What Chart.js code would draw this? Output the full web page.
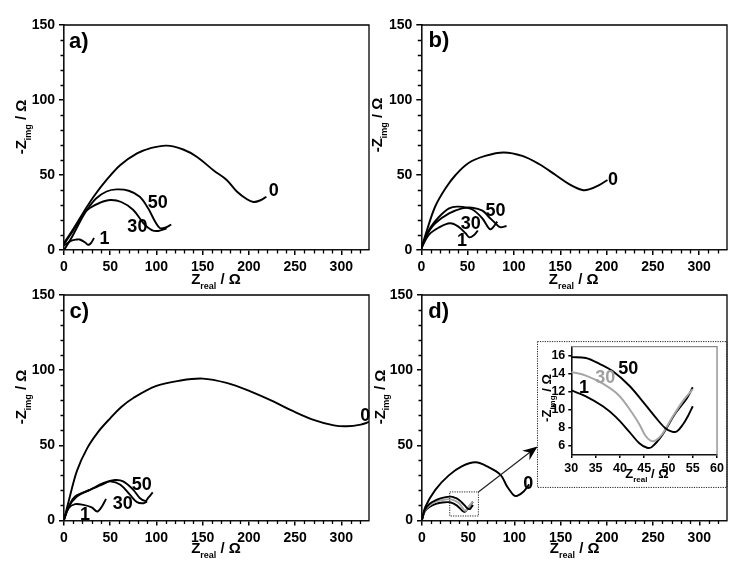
<!DOCTYPE html>
<html>
<head>
<meta charset="utf-8">
<script src="https://cdn.jsdelivr.net/npm/chart.js@4"></script>
<style>
    html, body { margin: 0; padding: 0; background: #fff; }
    body { position: relative; width: 743px; height: 571px; overflow: hidden; }
    canvas { position: absolute; filter: blur(0.25px); }
</style>
</head>
<body>
<canvas id="panelA"></canvas>
<canvas id="panelB"></canvas>
<canvas id="panelC"></canvas>
<canvas id="panelD"></canvas>
<canvas id="inset"></canvas>
<script>
// axis ticks
const mainXTicks = [0, 50, 100, 150, 200, 250, 300];
const mainYTicks = [0, 50, 100, 150];
const mainXMinor = [10, 20, 30, 40, 60, 70, 80, 90, 110, 120, 130, 140, 160, 170, 180, 190, 210, 220, 230, 240, 260, 270, 280, 290, 310, 320];
const mainYMinor = [10, 20, 30, 40, 60, 70, 80, 90, 110, 120, 130, 140];
const insetXTicks = [30, 35, 40, 45, 50, 55, 60];
const insetYTicks = [6, 8, 10, 12, 14, 16];

// panel a) [Zreal, -Zimg]
const a0 = [[0, 4.5], [10, 14], [21, 25], [32, 35.5], [46, 46.7], [61, 56.7], [79, 64.4], [93, 67.8], [111, 69.6], [129, 67], [144, 62], [162, 53], [176, 46.7], [187, 39], [198, 33.8], [205, 32], [212, 33], [219, 35.5]];
const a50 = [[0, 0], [8, 8], [14, 15], [21, 23], [28, 29.5], [35, 34.5], [46, 39], [57, 40.4], [70, 39.5], [82, 35.5], [91, 27.8], [99, 18.5], [104, 14.5], [110, 15], [116, 17]];
const a30 = [[0, 4], [10, 13], [21, 24], [28, 28], [39, 31.5], [50, 33.3], [62, 32], [75, 26.7], [86, 17.8], [95, 13.3], [102, 12.7], [111, 14.4]];
const a1 = [[0, 3], [8, 6.2], [14, 7], [17, 7], [23, 5], [26, 3.5], [29, 4.5], [32.5, 8]];

// panel b)
const b0 = [[0, 1], [6, 13], [15, 29], [26, 41], [37, 50], [51, 58], [69, 62.7], [89, 65], [109, 62.7], [127, 57.3], [145, 50], [160, 43.8], [174, 40], [181, 40.4], [192, 43.3], [201, 46.7]];
const b50 = [[0, 1], [6, 10], [15, 17.8], [30, 24.4], [44, 27.8], [55, 28.2], [66, 26.2], [73, 22], [80, 17.8], [85, 15.2], [92, 16]];
const b30 = [[0, 1], [8, 13], [19, 22], [30, 27.8], [40, 28.9], [55, 27], [66, 21], [73, 14.4], [76, 14.2], [82, 18.9]];
const b1 = [[0, 1], [8, 10], [19, 15], [31, 17.8], [40, 15.6], [48, 11], [52, 8.4], [57, 10], [61, 13]];

// panel c)
const c0 = [[0, 0.5], [5, 12.7], [14, 33], [25, 48], [37, 59], [50, 68], [62, 75.5], [75, 81.5], [100, 89.5], [125, 93], [150, 94.4], [176, 91.5], [201, 86], [227, 79], [248, 72.7], [270, 67], [292, 63.3], [306, 62.7], [321, 63.8], [330, 65.5]];
const c50 = [[0, 0.5], [5, 9], [14, 16], [28, 20.4], [43, 25], [55, 26.9], [64, 26], [75, 20.4], [82, 15], [88, 13], [91, 15], [96, 18.7]];
const c30 = [[0, 0.5], [5, 9], [12, 16], [28, 20.4], [43, 24.4], [50, 26], [61, 23.8], [71.5, 17], [79, 12.2], [86, 11.5], [90, 12.7]];
const c1 = [[0, 0.5], [5, 8.2], [12, 10.9], [21, 10.4], [30, 8.7], [36, 6], [41, 9.3], [45.5, 14.4]];

// panel d)
const d0 = [[0, 0.5], [3.6, 9], [14.4, 20.4], [29, 30], [43, 36], [58, 38.7], [72, 35.5], [85, 30.4], [92, 22.7], [99, 17], [103, 16.4], [110, 19.3], [116, 24]];
const d50 = [[0, 0.5], [3, 7], [8, 11], [15, 13.5], [22, 15], [30, 15.85], [33, 15.75], [35.8, 15.1], [38.5, 14.3], [41.9, 12.7], [44.6, 11], [47.3, 9.2], [49.3, 8], [50.7, 7.6], [51.7, 7.6], [53, 8.4], [54, 9.3], [55, 10.4]];
const d30 = [[0, 0.5], [3, 6.5], [8, 10], [15, 12.5], [22, 13.6], [30, 14.2], [33, 13.8], [36.5, 12.9], [39.8, 11.6], [42.6, 9.6], [44, 8.4], [45.3, 7.1], [46.3, 6.6], [47.3, 6.6], [48.7, 7.3], [50.7, 9.1], [53, 11], [55, 12.3]];
const d1 = [[0, 0.5], [3, 6], [8, 9], [15, 11], [22, 12], [30, 12.15], [33, 11.5], [36.5, 10.4], [39.2, 9.2], [41.9, 7.6], [44, 6.3], [45.6, 5.8], [46.6, 5.9], [48.7, 7.2], [51.4, 9.6], [53.8, 11.3], [55, 12.5]];

// inset of d), same measurements on the zoomed range
const inset50 = d50.slice(5);
const inset30 = d30.slice(5);
const inset1 = d1.slice(5);

// curve labels [text, x, y]
const aLabels = [['0', 227, 39], ['50', 101.5, 31.5], ['30', 79.4, 15], ['1', 43.7, 7]];
const bLabels = [['0', 207, 46.7], ['50', 80, 26.2], ['30', 53.4, 17.3], ['1', 44, 6.2]];
const cLabels = [['0', 326, 69.8], ['50', 84, 23.8], ['30', 63.5, 10.9], ['1', 22.7, 3.8]];
const dLabels = [['0', 115, 24.2]];
const insetLabels = [['50', 41.7, 14.5, '#000'], ['30', 37, 13.5, '#a0a0a0'], ['1', 32.6, 12.4, '#000']];

const fontFamily = '"Liberation Sans", Arial, sans-serif';
const GRAY = '#a6a6a6';

function xy(points) {
    return points.map(p => ({ x: p[0], y: p[1] }));
}

function line(points, color, width) {
    return { data: xy(points), showLine: true, borderColor: color || '#000', borderWidth: width || 1.9, pointRadius: 0, tension: 0.35, fill: false };
}

// Z with subscript, plain canvas text because the axis title cannot mix sizes
function drawSubTitle(ctx, x, y, main, sub, tail, size, subSize, rotated) {
    ctx.save();
    ctx.translate(x, y);
    if (rotated) ctx.rotate(-Math.PI / 2);
    ctx.fillStyle = '#000';
    ctx.textAlign = 'left';
    ctx.textBaseline = 'alphabetic';
    ctx.font = 'bold ' + size + 'px ' + fontFamily;
    const w1 = ctx.measureText(main).width;
    const w3 = ctx.measureText(tail).width;
    ctx.font = 'bold ' + subSize + 'px ' + fontFamily;
    const w2 = ctx.measureText(sub).width;
    let pos = -(w1 + w2 + w3) / 2;
    ctx.font = 'bold ' + size + 'px ' + fontFamily;
    ctx.fillText(main, pos, 0);
    pos += w1;
    ctx.font = 'bold ' + subSize + 'px ' + fontFamily;
    ctx.fillText(sub, pos, size * 0.3);
    pos += w2;
    ctx.font = 'bold ' + size + 'px ' + fontFamily;
    ctx.fillText(tail, pos, 0);
    ctx.restore();
}

// frame, minor ticks, curve labels and titles
function panelPlugin(o) {
    return {
        id: 'panelExtras',
        afterDraw(chart) {
            const ctx = chart.ctx, area = chart.chartArea;
            const sx = chart.scales.x, sy = chart.scales.y;
            ctx.save();
            ctx.strokeStyle = o.frameColor || '#000';
            ctx.lineWidth = 1.3;
            ctx.beginPath();
            ctx.moveTo(area.left, area.top);
            ctx.lineTo(area.right, area.top);
            ctx.lineTo(area.right, area.bottom);
            ctx.stroke();
            ctx.strokeStyle = '#000';
            ctx.lineWidth = 1.3;
            ctx.beginPath();
            (o.xMinor || []).forEach(v => {
                const px = Math.round(sx.getPixelForValue(v)) + 0.5;
                ctx.moveTo(px, area.bottom);
                ctx.lineTo(px, area.bottom + 3.5);
            });
            (o.yMinor || []).forEach(v => {
                const py = Math.round(sy.getPixelForValue(v)) + 0.5;
                ctx.moveTo(area.left, py);
                ctx.lineTo(area.left - 3.5, py);
            });
            ctx.stroke();

            ctx.textAlign = 'center';
            ctx.textBaseline = 'middle';
            ctx.font = 'bold ' + o.labelSize + 'px ' + fontFamily;
            o.labels.forEach(l => {
                ctx.fillStyle = l[3] || '#000';
                ctx.fillText(l[0], sx.getPixelForValue(l[1]), sy.getPixelForValue(l[2]));
            });
            if (o.tag) {
                ctx.fillStyle = '#000';
                ctx.font = 'bold 22px ' + fontFamily;
                ctx.fillText(o.tag[0], sx.getPixelForValue(o.tag[1]), sy.getPixelForValue(o.tag[2]));
            }
            drawSubTitle(ctx, o.xTitle[0], o.xTitle[1], 'Z', 'real', ' / Ω', o.titleSize, o.subSize, false);
            drawSubTitle(ctx, o.yTitle[0], o.yTitle[1], '-Z', 'img', ' / Ω', o.titleSize, o.subSize, true);
            if (o.extra) o.extra(ctx, sx, sy);
            ctx.restore();
        }
    };
}

function makeChart(id, o) {
    const cv = document.getElementById(id);
    cv.style.left = o.left + 'px';
    cv.style.top = o.top + 'px';
    cv.width = o.width;
    cv.height = o.height;
    const axis = (min, max, ticks, fit) => ({
        type: 'linear',
        min: min,
        max: max,
        afterBuildTicks: s => { s.ticks = ticks.map(v => ({ value: v })); },
        afterFit: fit,
        border: { color: '#111', width: 1.6 },
        grid: { drawOnChartArea: false, color: '#000', lineWidth: 1.5, tickLength: o.tickLength },
        ticks: { color: '#000', padding: o.tickPad, maxRotation: 0, autoSkip: false, includeBounds: false, font: { family: fontFamily, weight: 'bold', size: o.tickSize } }
    });
    return new Chart(cv.getContext('2d'), {
        type: 'scatter',
        data: { datasets: o.datasets },
        options: {
            responsive: false,
            animation: false,
            devicePixelRatio: 1,
            layout: { padding: { top: o.padTop, right: o.padRight, left: 0, bottom: 0 } },
            plugins: { legend: { display: false }, tooltip: { enabled: false }, title: { display: false } },
            scales: {
                x: axis(o.xRange[0], o.xRange[1], o.xTicks, s => { s.height = o.xAxisHeight; }),
                y: axis(o.yRange[0], o.yRange[1], o.yTicks, s => { s.width = o.yAxisWidth; })
            }
        },
        plugins: [panelPlugin(o)]
    });
}

function mainPanel(id, left, top, width, height, yAxisWidth, padTop, padRight, xAxisHeight, datasets, labels, tag, xTitle, yTitle, extra) {
    return makeChart(id, {
        left, top, width, height, yAxisWidth, padTop, padRight, xAxisHeight, datasets, labels, tag, xTitle, yTitle, extra,
        xRange: [0, 330], yRange: [0, 150],
        xTicks: mainXTicks, yTicks: mainYTicks, xMinor: mainXMinor, yMinor: mainYMinor,
        tickLength: 5, tickPad: 4, tickSize: 14, labelSize: 18, titleSize: 15, subSize: 9
    });
}

// zoom box, big dotted box and the arrow between them, in panel d) data coordinates
function drawZoomGuide(ctx, sx, sy) {
    ctx.strokeStyle = '#222';
    ctx.lineWidth = 1;
    ctx.setLineDash([1.2, 1.2]);
    ctx.strokeRect(sx.getPixelForValue(30), sy.getPixelForValue(19), sx.getPixelForValue(61) - sx.getPixelForValue(30), sy.getPixelForValue(3) - sy.getPixelForValue(19));
    ctx.strokeRect(sx.getPixelForValue(125), sy.getPixelForValue(119), sx.getPixelForValue(330) - sx.getPixelForValue(125), sy.getPixelForValue(22) - sy.getPixelForValue(119));
    ctx.setLineDash([]);
    const x1 = sx.getPixelForValue(61), y1 = sy.getPixelForValue(19);
    const x2 = sx.getPixelForValue(125), y2 = sy.getPixelForValue(49.3);
    const ang = Math.atan2(y2 - y1, x2 - x1);
    ctx.lineWidth = 1.2;
    ctx.beginPath();
    ctx.moveTo(x1, y1);
    ctx.lineTo(x2 - 8 * Math.cos(ang), y2 - 8 * Math.sin(ang));
    ctx.stroke();
    ctx.fillStyle = '#000';
    ctx.beginPath();
    ctx.moveTo(x2, y2);
    ctx.lineTo(x2 - 16 * Math.cos(ang - 0.38), y2 - 16 * Math.sin(ang - 0.38));
    ctx.lineTo(x2 - 10 * Math.cos(ang), y2 - 10 * Math.sin(ang));
    ctx.lineTo(x2 - 16 * Math.cos(ang + 0.38), y2 - 16 * Math.sin(ang + 0.38));
    ctx.closePath();
    ctx.fill();
}

mainPanel('panelA', 0, 0, 372, 290, 64, 25, 3, 40,
    [line(a0), line(a50), line(a30), line(a1)], aLabels, ['a)', 16, 139], [216, 284], [26, 127]);
mainPanel('panelB', 372, 0, 371, 290, 49.3, 25, 16, 40,
    [line(b0), line(b50), line(b30), line(b1)], bLabels, ['b)', 19, 139.4], [201.7, 284], [10, 125]);
mainPanel('panelC', 0, 280, 372, 291, 64, 15, 3, 50.5,
    [line(c0), line(c50), line(c30), line(c1)], cLabels, ['c)', 16.6, 138.7], [216, 273], [26, 117]);
mainPanel('panelD', 372, 280, 371, 291, 50, 15, 16, 50.5,
    [line(d0), line(d50), line(d30, GRAY), line(d1)], dLabels, ['d)', 18, 139], [202.7, 273], [12.7, 117], drawZoomGuide);

makeChart('inset', {
    left: 538, top: 330, width: 189, height: 157,
    yAxisWidth: 33.3, padTop: 16.7, padRight: 7.3, xAxisHeight: 32,
    xRange: [30, 60], yRange: [5, 17],
    xTicks: insetXTicks, yTicks: insetYTicks,
    datasets: [line(inset50), line(inset30, GRAY, 2), line(inset1)],
    labels: insetLabels,
    frameColor: '#888',
    xTitle: [109, 148], yTitle: [13, 68],
    tickLength: 3, tickPad: 3, tickSize: 12.5, labelSize: 18, titleSize: 13, subSize: 8
});
</script>
</body>
</html>
